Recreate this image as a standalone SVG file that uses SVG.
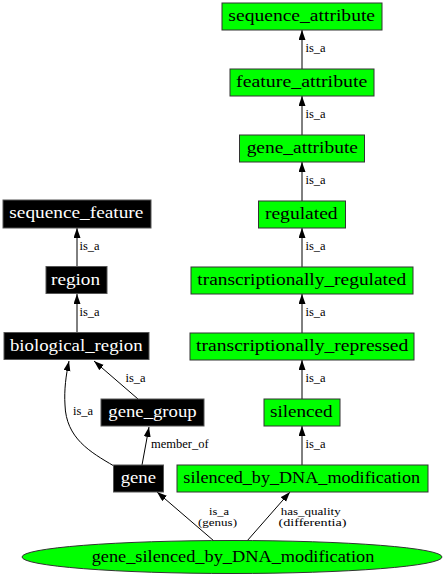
<svg xmlns="http://www.w3.org/2000/svg" width="445" height="576" viewBox="0 0 445 576">
<defs>
<marker id="arr" markerUnits="userSpaceOnUse" markerWidth="12" markerHeight="10" refX="10" refY="3.5" orient="auto">
<path d="M0,0 L10,3.5 L0,7 Z" fill="#000"/>
</marker>
<style>
.g rect{fill:#00ff00;stroke:#333;stroke-width:1}
.b rect{fill:#000;stroke:#555;stroke-width:1}
</style>
</defs>
<rect width="445" height="576" fill="#fff"/>
<g id="edges" font-family="'Liberation Serif', serif" font-size="12.5" fill="#000">
<g fill="none" stroke="#000" marker-end="url(#arr)">
<path d="M302,69 L302,30"/>
<path d="M302,135 L302,96"/>
<path d="M302,201 L302,162"/>
<path d="M302,267 L302,228"/>
<path d="M302,333 L302,294"/>
<path d="M302,399 L302,360"/>
<path d="M302,465 L302,426"/>
<path d="M77,266 L77,228"/>
<path d="M77,332 L77,294"/>
<path d="M138,399 L94,361"/>
<path d="M114,466 C90,452 66,438 65,405 C64,390 66,375 69,361"/>
<path d="M142,465 L149,427"/>
<path d="M214,541 L157,492"/>
<path d="M247,541 L290,492"/>
</g>
<text x="305.5" y="51.5">is_a</text>
<text x="305.5" y="117.5">is_a</text>
<text x="305.5" y="183.5">is_a</text>
<text x="305.5" y="250">is_a</text>
<text x="305.5" y="316">is_a</text>
<text x="305.5" y="382">is_a</text>
<text x="305.5" y="448">is_a</text>
<text x="79.5" y="250">is_a</text>
<text x="79.5" y="316">is_a</text>
<text x="125.5" y="382">is_a</text>
<text x="73" y="415">is_a</text>
<text x="151" y="448">member_of</text>
<g text-anchor="middle" font-size="11" lengthAdjust="spacingAndGlyphs">
<text x="219" y="515" textLength="20" lengthAdjust="spacingAndGlyphs">is_a</text><text x="217.5" y="526" textLength="39" lengthAdjust="spacingAndGlyphs">(genus)</text>
<text x="310.7" y="515" textLength="60" lengthAdjust="spacingAndGlyphs">has_quality</text><text x="312.5" y="526" textLength="68" lengthAdjust="spacingAndGlyphs">(differentia)</text>
</g>
</g>
<g font-family="'Liberation Serif', serif" font-size="16" text-anchor="middle">
<g class="g" id="sequence_attribute"><rect x="222" y="3" width="160" height="27"/><text x="301.7" y="20.5" textLength="146.7" lengthAdjust="spacingAndGlyphs">sequence_attribute</text></g>
<g class="g" id="feature_attribute"><rect x="230" y="69" width="144" height="27"/><text x="301.7" y="86.5" textLength="131.3" lengthAdjust="spacingAndGlyphs">feature_attribute</text></g>
<g class="g" id="gene_attribute"><rect x="239.5" y="135" width="125" height="27"/><text x="302.3" y="152.5" textLength="111.3" lengthAdjust="spacingAndGlyphs">gene_attribute</text></g>
<g class="g" id="regulated"><rect x="258.5" y="201" width="87" height="27"/><text x="301.3" y="218.5" textLength="72.7" lengthAdjust="spacingAndGlyphs">regulated</text></g>
<g class="g" id="transcriptionally_regulated"><rect x="191" y="267" width="222" height="27"/><text x="301.8" y="284.5" textLength="209" lengthAdjust="spacingAndGlyphs">transcriptionally_regulated</text></g>
<g class="g" id="transcriptionally_repressed"><rect x="190" y="333" width="224" height="27"/><text x="302.2" y="350.5" textLength="212.3" lengthAdjust="spacingAndGlyphs">transcriptionally_repressed</text></g>
<g class="g" id="silenced"><rect x="264" y="399" width="76" height="27"/><text x="301.3" y="416.5" textLength="62.7" lengthAdjust="spacingAndGlyphs">silenced</text></g>
<g class="g" id="silenced_by_DNA_modification"><rect x="177" y="465" width="251" height="27"/><text x="301.7" y="482.5" textLength="236.7" lengthAdjust="spacingAndGlyphs">silenced_by_DNA_modification</text></g>
<g class="b" id="sequence_feature" fill="#fff"><rect x="3" y="200" width="148" height="28"/><text x="76.3" y="218" textLength="134" lengthAdjust="spacingAndGlyphs">sequence_feature</text></g>
<g class="b" id="region" fill="#fff"><rect x="46" y="266.5" width="61" height="27"/><text x="75.5" y="284.5" textLength="49" lengthAdjust="spacingAndGlyphs">region</text></g>
<g class="b" id="biological_region" fill="#fff"><rect x="4" y="332.5" width="145" height="27"/><text x="76.3" y="350.5" textLength="132.7" lengthAdjust="spacingAndGlyphs">biological_region</text></g>
<g class="b" id="gene_group" fill="#fff"><rect x="101" y="399" width="103" height="27"/><text x="152.5" y="416.5" textLength="88.3" lengthAdjust="spacingAndGlyphs">gene_group</text></g>
<g class="b" id="gene" fill="#fff"><rect x="113.5" y="465" width="50" height="27"/><text x="138.3" y="482.5" textLength="35.3" lengthAdjust="spacingAndGlyphs">gene</text></g>
<g id="gene_silenced_by_DNA_modification"><ellipse cx="232" cy="557" rx="210" ry="16.5" fill="#00ff00" stroke="#333"/><text x="233" y="561.5" textLength="282.7" lengthAdjust="spacingAndGlyphs">gene_silenced_by_DNA_modification</text></g>
</g>
</svg>
